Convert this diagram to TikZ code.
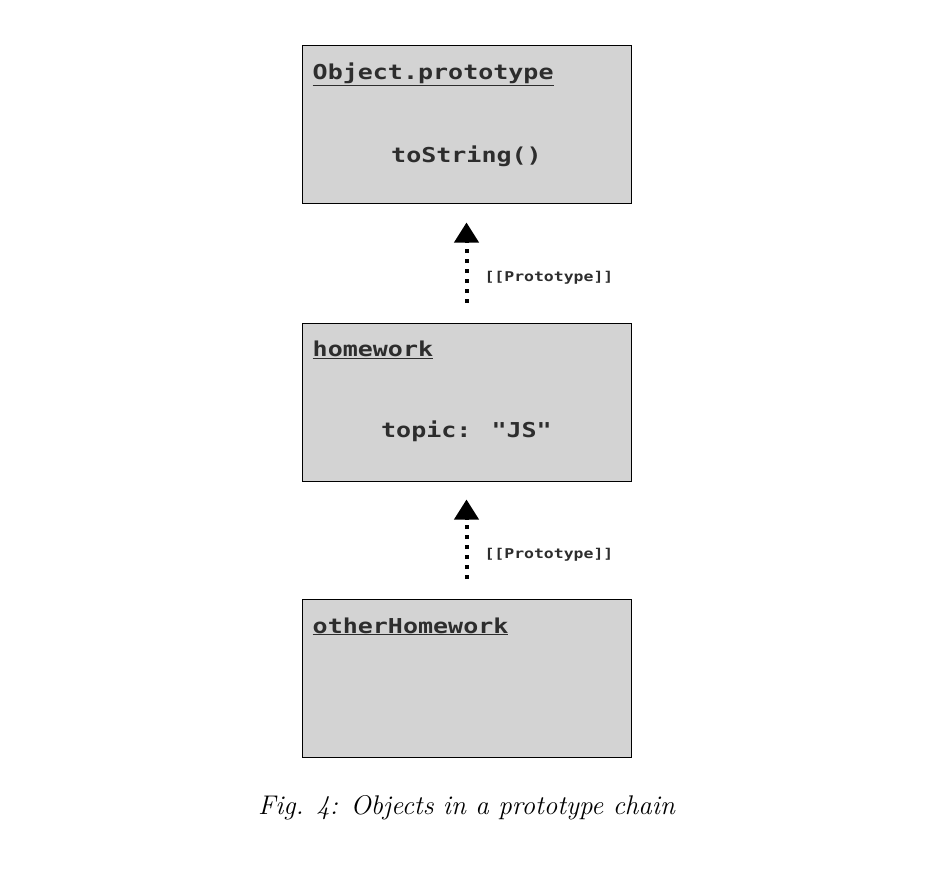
\documentclass[tikz,border=0pt]{standalone}
\usepackage{fontspec}
\usetikzlibrary{arrows.meta}
\newfontfamily\codefont{DejaVu Sans Mono}[FakeStretch=1.22]
\definecolor{boxgray}{RGB}{211,211,211}
\definecolor{codegray}{RGB}{45,45,45}

\begin{document}
\begin{tikzpicture}[x=1pt, y=-1pt,
  objbox/.style={draw=black, line width=1pt, fill=boxgray, minimum width=329pt, minimum height=158pt, inner sep=0},
  boxtitle/.style={anchor=base west, inner sep=0, text=codegray, font=\fontsize{20.5}{24}\codefont\bfseries},
  boxtext/.style={anchor=base, inner sep=0, text=codegray, font=\fontsize{20.5}{24}\codefont\bfseries},
  protolink/.style={line width=4pt, dash pattern=on 4pt off 6pt, shorten <=20pt, shorten >=18pt, -{Triangle[width=24pt,length=20pt]}},
  protolabel/.style={anchor=west, xshift=16pt, inner sep=0, text=codegray, font=\fontsize{13.5}{16}\codefont\bfseries}]
\useasboundingbox (0,0) rectangle (934,896);
% the three objects
\node[objbox] (objproto) at (466.5,125) {};
\node[objbox] (homework) at (466.5,402) {};
\node[objbox] (otherhw) at (466.5,678.5) {};
\foreach \name/\txt in {objproto/Object.prototype, homework/homework, otherhw/otherHomework} {
  \node[boxtitle] (\name-title) at ([shift={(11,34)}]\name.north west) {\underline{\txt}};
}
\node[boxtext] (tostring) at ([shift={(0,117)}]objproto.north) {toString()};
\node[boxtext] (topic) at ([shift={(0,115)}]homework.north) {topic: "JS"};
% prototype links
\draw[protolink] (homework.north) -- node[protolabel, pos=.38] (link1) {[[Prototype]]} (objproto.south);
\draw[protolink] (otherhw.north) -- node[protolabel, pos=.38] (link2) {[[Prototype]]} (homework.south);
\node[font=\fontsize{27}{32}\selectfont\itshape] (caption) at (466.5,808) {Fig. 4: Objects in a prototype chain};
\end{tikzpicture}
\end{document}
